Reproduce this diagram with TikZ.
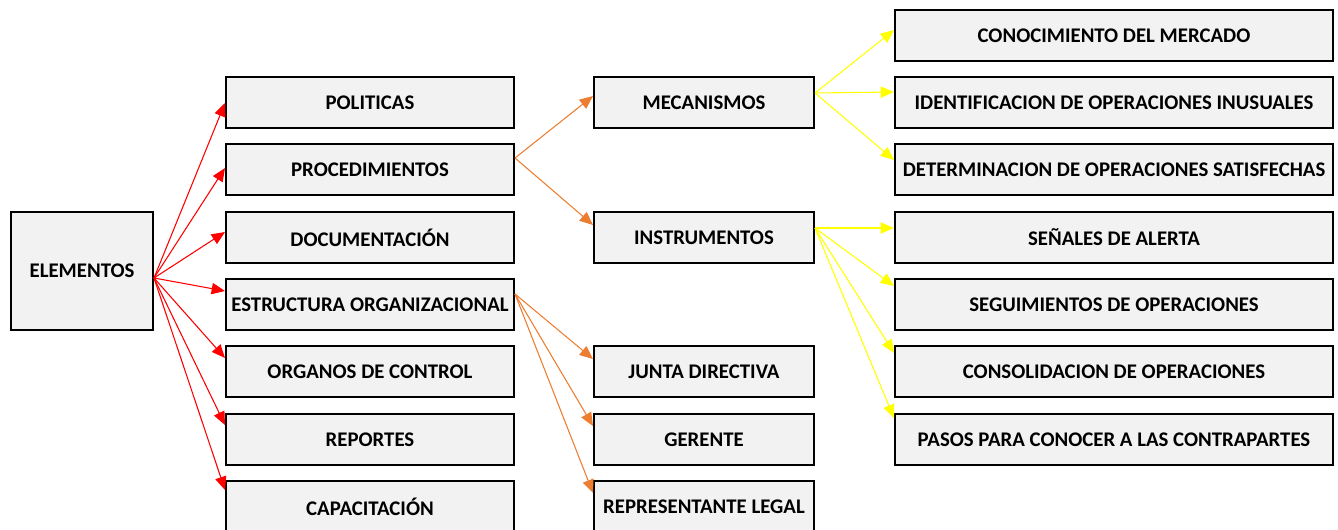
\documentclass[tikz,border=0pt]{standalone}
\usepackage{fontspec}
\setmainfont{Carlito}
\usetikzlibrary{arrows.meta,calc}
\definecolor{boxgray}{RGB}{242,242,242}
\definecolor{linkred}{RGB}{255,0,0}
\definecolor{linkorange}{RGB}{237,125,49}
\definecolor{linkyellow}{RGB}{255,255,0}
\tikzset{
  ar/.style={-{Triangle[length=10pt,width=8.5pt]},line width=0.8pt},
  arR/.style={ar,linkred},
  arO/.style={ar,linkorange},
  arY/.style={ar,linkyellow},
}

\begin{document}
\begin{tikzpicture}[x=0.75pt,y=-0.75pt,
    box/.style={draw,line width=1.5pt,fill=boxgray,inner sep=1pt,
                minimum height=38.25pt,align=center,
                font=\fontsize{15.6}{18}\selectfont\bfseries},
    boxA/.style={box,minimum width=216pt},
    boxB/.style={box,minimum width=165pt},
    boxC/.style={box,minimum width=328.5pt}
  ]
    \useasboundingbox (0,0) rectangle (1338,529);
    % raiz
    \node[box,minimum width=106.5pt,minimum height=88.5pt] (elem) at (82,271) {ELEMENTOS};
    % primer nivel
    \node[boxA] (pol)  at (370,102.5) {POLITICAS};
    \node[boxA] (proc) at (370,169.5) {PROCEDIMIENTOS};
    \node[boxA] (doc)  at (370,237.5) {DOCUMENTACIÓN};
    \node[boxA] (estr) at (370,304.5) {ESTRUCTURA ORGANIZACIONAL};
    \node[boxA] (org)  at (370,371.5) {ORGANOS DE CONTROL};
    \node[boxA] (rep)  at (370,439.5) {REPORTES};
    \node[boxA] (cap)  at (370,506.5) {CAPACITACIÓN};
    % segundo nivel
    \node[boxB] (mec)   at (704,102.5) {MECANISMOS};
    \node[boxB] (ins)   at (704,237.5) {INSTRUMENTOS};
    \node[boxB] (junta) at (704,371.5) {JUNTA DIRECTIVA};
    \node[boxB] (ger)   at (704,439.5) {GERENTE};
    \node[boxB] (repl)  at (704,506.5) {REPRESENTANTE LEGAL};
    % tercer nivel
    \node[boxC] (con)  at (1114,35.5)  {CONOCIMIENTO DEL MERCADO};
    \node[boxC] (ide)  at (1114,102.5) {IDENTIFICACION DE OPERACIONES INUSUALES};
    \node[boxC] (det)  at (1114,169.5) {DETERMINACION DE OPERACIONES SATISFECHAS};
    \node[boxC] (sen)  at (1114,237.5) {SEÑALES DE ALERTA};
    \node[boxC] (seg)  at (1114,304.5) {SEGUIMIENTOS DE OPERACIONES};
    \node[boxC] (cons) at (1114,371.5) {CONSOLIDACION DE OPERACIONES};
    \node[boxC] (pas)  at (1114,439.5) {PASOS PARA CONOCER A LAS CONTRAPARTES};
    % flechas rojas
    \coordinate (e0) at ($(elem.east)+(0,7)$);
    \draw[arR] (e0) -- ($(pol.west)+(0,0.5)$);
    \draw[arR] (e0) -- ($(proc.west)+(0,-1.5)$);
    \draw[arR] (e0) -- ($(doc.west)+(0,-5.5)$);
    \draw[arR] (e0) -- ($(estr.west)+(0,-13.5)$);
    \draw[arR] (e0) -- ($(org.west)+(0,-13.5)$);
    \draw[arR] (e0) -- ($(rep.west)+(0,-14.5)$);
    \draw[arR] (e0) -- ($(cap.west)+(0,-16.5)$);
    % flechas naranjas
    \coordinate (p0) at ($(proc.east)+(0,-11.5)$);
    \draw[arO] (p0) -- ($(mec.west)+(0,-6.5)$);
    \draw[arO] (p0) -- ($(ins.west)+(0,-12.5)$);
    \coordinate (s0) at ($(estr.east)+(0,-10.5)$);
    \draw[arO] (s0) -- ($(junta.west)+(0,-12.5)$);
    \draw[arO] (s0) -- ($(ger.west)+(0,-13.5)$);
    \draw[arO] (s0) -- ($(repl.west)+(0,-13.5)$);
    % flechas amarillas
    \coordinate (m0) at ($(mec.east)+(0,-9.5)$);
    \draw[arY] (m0) -- ($(con.west)+(0,-5.5)$);
    \draw[arY] (m0) -- ($(ide.west)+(0,-10.5)$);
    \draw[arY] (m0) -- ($(det.west)+(0,-9.5)$);
    \coordinate (i0) at ($(ins.east)+(0,-9.5)$);
    \draw[arY] (i0) -- ($(sen.west)+(0,-9.5)$);
    \draw[arY] (i0) -- ($(seg.west)+(0,-18.5)$);
    \draw[arY] (i0) -- ($(cons.west)+(0,-18.5)$);
    \draw[arY] (i0) -- ($(pas.west)+(0,-21.5)$);
  \end{tikzpicture}
\end{document}
